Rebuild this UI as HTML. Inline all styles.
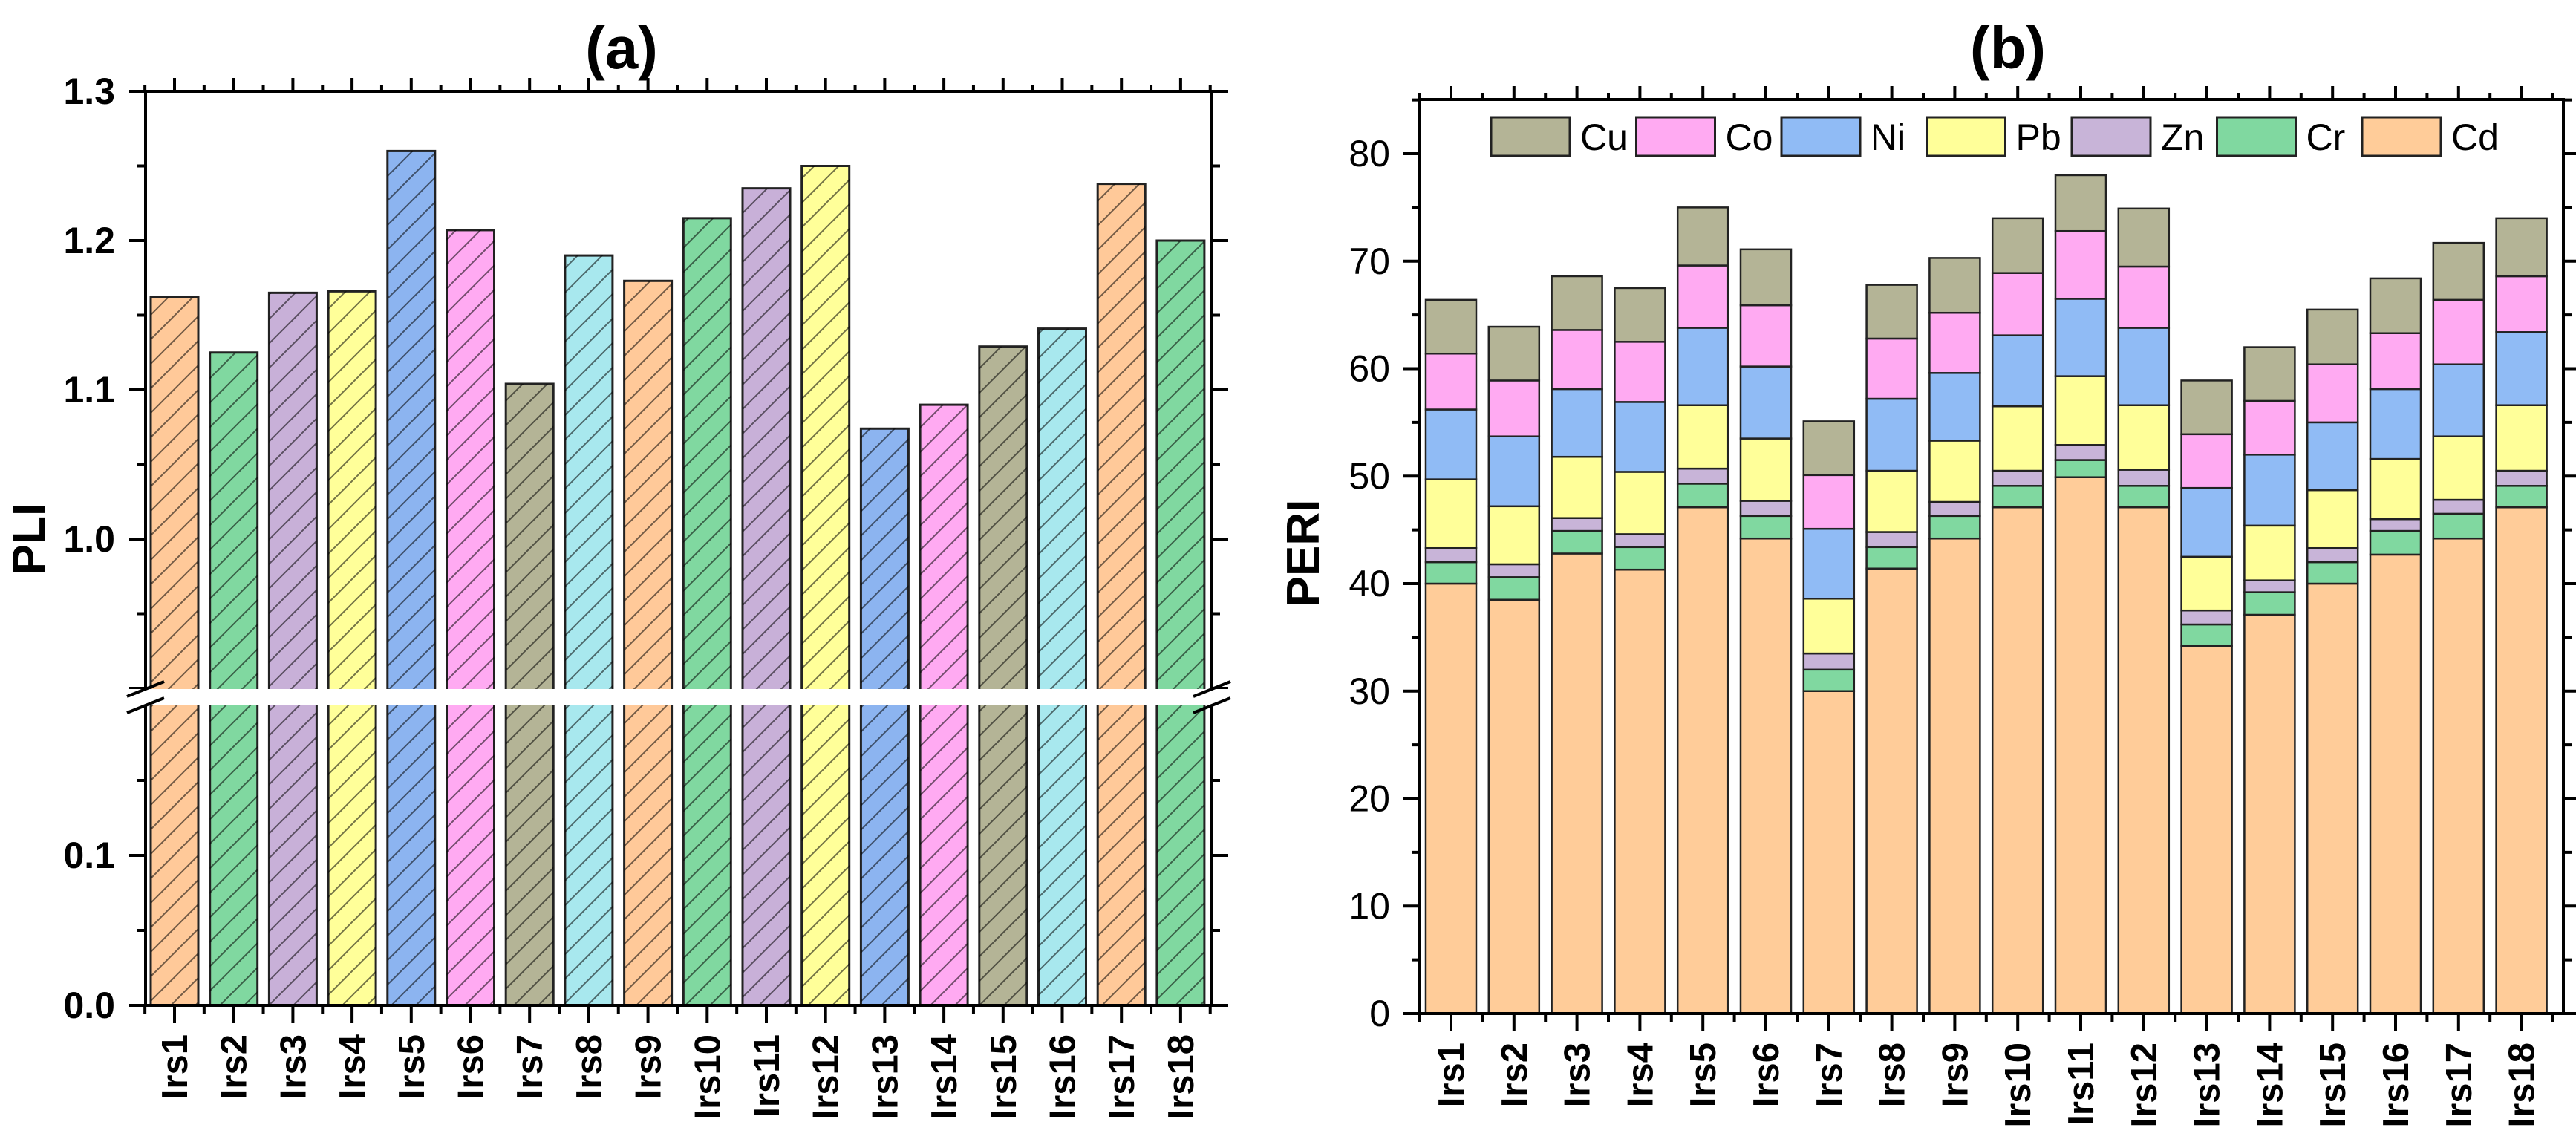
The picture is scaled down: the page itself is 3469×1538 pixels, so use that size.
<!DOCTYPE html>
<html><head><meta charset="utf-8"><style>
html,body{margin:0;padding:0;background:#fff}
svg{display:block;font-family:"Liberation Sans",Arial,sans-serif}
</style></head><body>
<svg id="chart" width="3469" height="1538" viewBox="0 0 3469 1538" xmlns="http://www.w3.org/2000/svg">
<defs>
<pattern id="hatch" patternUnits="userSpaceOnUse" width="33" height="33" patternTransform="translate(0,0)">
<path d="M-5,38 L38,-5 M-5,5 L5,-5 M28,38 L38,28" stroke="rgba(0,0,0,0.55)" stroke-width="2" fill="none"/>
</pattern>
</defs>
<g id="pa"></g>
<g id="pb"></g>
</svg>
<script>
const categories = ["Irs1","Irs2","Irs3","Irs4","Irs5","Irs6","Irs7","Irs8","Irs9","Irs10","Irs11","Irs12","Irs13","Irs14","Irs15","Irs16","Irs17","Irs18"];
const pliValues = [1.162,1.125,1.165,1.166,1.260,1.207,1.104,1.190,1.173,1.215,1.235,1.250,1.074,1.090,1.129,1.141,1.238,1.200];
const pliColors = ["#FFC999","#80D8A0","#C8B0D8","#FFFF99","#8CB4F0","#FFAAF2","#B4B496","#A8E8EE"];
const upperTicks = ["1.0","1.1","1.2","1.3"];
const lowerTicks = ["0.0","0.1"];
const elements = ["Cd","Cr","Zn","Pb","Ni","Co","Cu"];
const legendOrder = ["Cu","Co","Ni","Pb","Zn","Cr","Cd"];
const elemColors = {Cd:"#FFCC99",Cr:"#80D8A0",Zn:"#C8B4D8",Pb:"#FFFF99",Ni:"#90BBF5",Co:"#FFAAF2",Cu:"#B4B496"};
const Cd = [40.0,38.5,42.8,41.3,47.1,44.2,30.0,41.4,44.2,47.1,49.9,47.1,34.2,37.1,40.0,42.7,44.2,47.1];
const Cr = [2.0,2.1,2.1,2.1,2.2,2.1,2.0,2.0,2.1,2.0,1.6,2.0,2.0,2.1,2.0,2.2,2.3,2.0];
const Zn = [1.3,1.2,1.2,1.2,1.4,1.4,1.5,1.4,1.3,1.4,1.4,1.5,1.3,1.1,1.3,1.1,1.3,1.4];
const Pb = [6.4,5.4,5.7,5.8,5.9,5.8,5.1,5.7,5.7,6.0,6.4,6.0,5.0,5.1,5.4,5.6,5.9,6.1];
const Ni = [6.5,6.5,6.3,6.5,7.2,6.7,6.5,6.7,6.3,6.6,7.2,7.2,6.4,6.6,6.3,6.5,6.7,6.8];
const Co = [5.2,5.2,5.5,5.6,5.8,5.7,5.0,5.6,5.6,5.8,6.3,5.7,5.0,5.0,5.4,5.2,6.0,5.2];
const Cu = [5.0,5.0,5.0,5.0,5.4,5.2,5.0,5.0,5.1,5.1,5.2,5.4,5.0,5.0,5.1,5.1,5.3,5.4];
const periTicks = ["0","10","20","30","40","50","60","70","80"];
const series = {Cd,Cr,Zn,Pb,Ni,Co,Cu};

const NS="http://www.w3.org/2000/svg";
function mk(parent,tag,attrs,text){const e=document.createElementNS(NS,tag);for(const k in attrs)e.setAttribute(k,attrs[k]);if(text!==undefined)e.textContent=text;parent.appendChild(e);return e;}

/* ---------- Panel A ---------- */
const pa=document.getElementById('pa');
const A={l:196,r:1632,t:123,b:1354,gapT:928,gapB:950};
const ax=i=>235+i*79.7;
function ay(v){return v>=0.5?726-(v-1.0)*2010:1354-v*2020;}
const aw=64;
let t=mk(pa,'text',{x:837,y:92,'text-anchor':'middle','font-size':80,'font-weight':'bold'},'(a)');

t=mk(pa,'text',{transform:'translate(60,726) rotate(-90)','text-anchor':'middle','font-size':62,'font-weight':'bold'},'PLI');

pliValues.forEach((v,i)=>{
  const x=ax(i)-aw/2,y=ay(v);
  const r=mk(pa,'rect',{x:x,y:y,width:aw,height:A.b-y,fill:pliColors[i%8],stroke:'#222',"stroke-width":3});
  
  
  const h=mk(pa,'rect',{x:x,y:y,width:aw,height:A.b-y,fill:'url(#hatch)'});
  
  
});
// frame
let f=mk(pa,'path',{d:`M${A.l},${A.b} L${A.l},${A.t} L${A.r},${A.t} L${A.r},${A.b} Z`,fill:'none',stroke:'#000','stroke-width':4});

// y ticks
function atick(v,major){
  const y=ay(v),L=major?22:11;
  const p=mk(pa,'path',{d:`M${A.l-L},${y} L${A.l},${y} M${A.r},${y} L${A.r+L},${y}`,stroke:'#000','stroke-width':4});
  
}
[0.9,0.95,1.0,1.05,1.1,1.15,1.2,1.25,1.3].forEach((v,i)=>atick(v,i%2===0));
[0,0.05,0.1,0.15].forEach((v,i)=>atick(v,i%2===0));
upperTicks.concat(lowerTicks).forEach(s=>{
  const tt=mk(pa,'text',{x:155,y:ay(parseFloat(s))+17,'text-anchor':'end','font-size':50,'font-weight':'bold'},s);
  
});
// gap
let g=mk(pa,'rect',{x:170,y:A.gapT,width:1490,height:A.gapB-A.gapT,fill:'#fff'});

[[A.l,A.gapT],[A.l,A.gapB],[A.r,A.gapT],[A.r,A.gapB]].forEach(([x,y])=>{
  const s=mk(pa,'path',{d:`M${x-25},${y+10} L${x+25},${y-10}`,stroke:'#000','stroke-width':4});
  
});
/* ---------- Panel B ---------- */
const pb=document.getElementById('pb');
const B={l:1912,r:3452,t:134,b:1365};
const bx=i=>1954+i*84.8;
const by=v=>B.b-v*14.475;
const bw=68;
t=mk(pb,'text',{x:2704,y:92,'text-anchor':'middle','font-size':80,'font-weight':'bold'},'(b)');

t=mk(pb,'text',{transform:'translate(1776,745) rotate(-90)','text-anchor':'middle','font-size':62,'font-weight':'bold'},'PERI');

categories.forEach((c,i)=>{
  let cum=0;
  elements.forEach(el=>{
    const v=series[el][i];
    const y1=by(cum),y2=by(cum+v);
    const r=mk(pb,'rect',{x:bx(i)-bw/2,y:y2,width:bw,height:y1-y2,fill:elemColors[el],stroke:'#222','stroke-width':2.5});
    
    
    cum+=v;
  });
});
f=mk(pb,'rect',{x:B.l,y:B.t,width:B.r-B.l,height:B.b-B.t,fill:'none',stroke:'#000','stroke-width':4});

for(let v=0;v<=85;v+=5){
  const y=by(v),L=(v%10===0)?22:11;
  const p=mk(pb,'path',{d:`M${B.l-L},${y} L${B.l},${y} M${B.r},${y} L${B.r+L},${y}`,stroke:'#000','stroke-width':4});
  
}
periTicks.forEach(s=>{
  const tt=mk(pb,'text',{x:1872,y:by(parseFloat(s))+17,'text-anchor':'end','font-size':50},s);
  
});
// legend
legendOrder.forEach((el,k)=>{
  const x=2008+k*195.5;
  const r=mk(pb,'rect',{x:x,y:158,width:106,height:52,fill:elemColors[el],stroke:'#222','stroke-width':3});
  
  const tt=mk(pb,'text',{x:x+120,y:202,'font-size':50},el);
  
});
/* ---------- shared x ticks / labels ---------- */
function xaxis(par,xf,step,frame,labelTop){
  categories.forEach((c,i)=>{
    const x=xf(i);
    let p=mk(par,'path',{d:`M${x},${frame.b} L${x},${frame.b+24} M${x},${frame.t} L${x},${frame.t-18} M${x+step/2},${frame.b} L${x+step/2},${frame.b+11} M${x+step/2},${frame.t} L${x+step/2},${frame.t-9}`,stroke:'#000','stroke-width':4});
    
    if(i===0){p=mk(par,'path',{d:`M${x-step/2},${frame.b} L${x-step/2},${frame.b+11} M${x-step/2},${frame.t} L${x-step/2},${frame.t-9}`,stroke:'#000','stroke-width':4});
      }
    const tt=mk(par,'text',{transform:`translate(${x+17},${labelTop}) rotate(-90)`,'text-anchor':'end','font-size':49,'font-weight':'bold'},c);
    
  });
}
xaxis(pa,ax,79.7,A,1393);
xaxis(pb,bx,84.8,B,1404);
</script>
</body></html>
